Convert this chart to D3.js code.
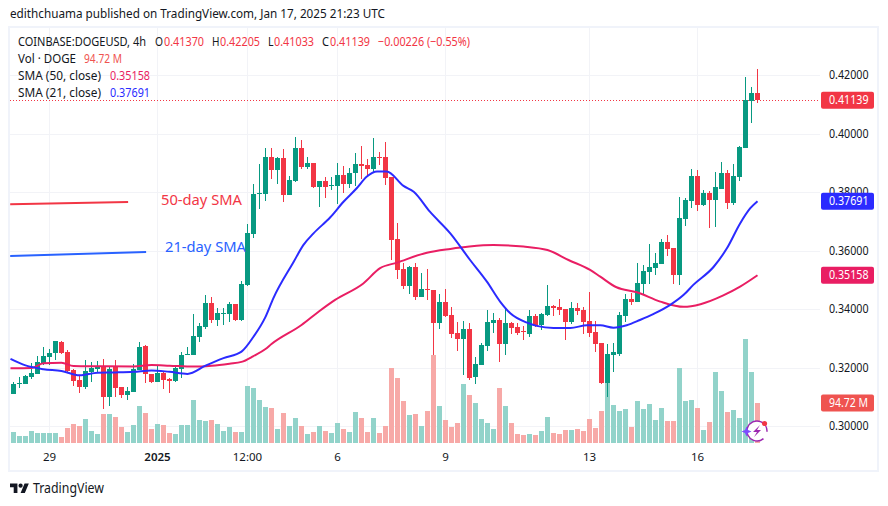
<!DOCTYPE html>
<html><head><meta charset="utf-8">
<script src="https://cdnjs.cloudflare.com/ajax/libs/d3/7.8.5/d3.min.js"></script>
<style>html,body{margin:0;padding:0;background:#fff}svg{display:block}text{font-family:"Noto Sans",sans-serif;}</style>
</head><body><svg id="c" width="888" height="506"></svg>
<script>
const opens=[.3112,.3144,.3144,.3168,.3178,.3215,.3237,.3249,.3289,.3254,.3192,.3158,.3134,.3185,.3196,.3202,.3100,.3202,.3134,.3107,.3117,.3192,.3274,.3178,.3151,.3182,.3161,.3154,.3196,.3243,.3243,.3305,.3339,.3421,.3363,.3386,.3383,.3418,.3363,.3482,.3656,.3793,.3793,.3920,.3875,.3916,.3790,.3838,.3951,.3886,.3899,.3817,.3838,.3822,.3821,.3858,.3827,.3865,.3896,.3892,.3879,.3919,.3920,.3851,.3639,.3537,.3479,.3544,.3441,.3468,.3465,.3353,.3424,.3380,.3318,.3298,.3332,.3168,.3209,.3274,.3353,.3363,.3281,.3353,.3339,.3324,.3315,.3377,.3346,.3380,.3411,.3407,.3400,.3356,.3404,.3397,.3360,.3322,.3284,.3147,.3243,.3247,.3377,.3435,.3425,.3485,.3526,.3540,.3554,.3629,.3608,.3516,.3707,.3769,.3855,.3755,.3796,.3772,.3810,.3865,.3762,.3851,.3951,.4111,.41370];
const highs=[.3151,.3167,.3175,.3217,.3240,.3270,.3263,.3291,.3291,.3261,.3196,.3175,.3226,.3219,.3223,.3230,.3206,.3226,.3135,.3133,.3213,.3288,.3278,.3179,.3207,.3189,.3166,.3206,.3254,.3271,.3384,.3353,.3448,.3441,.3404,.3404,.3424,.3419,.3496,.3691,.3827,.3896,.3951,.3951,.3920,.3947,.3855,.3988,.3978,.3920,.3900,.3839,.3851,.3851,.3899,.3889,.3882,.3933,.3957,.3913,.3985,.3937,.3971,.3852,.3694,.3557,.3547,.3557,.3523,.3537,.3466,.3452,.3469,.3407,.3356,.3359,.3353,.3236,.3284,.3397,.3387,.3370,.3401,.3356,.3353,.3342,.3397,.3383,.3387,.3483,.3414,.3434,.3401,.3424,.3421,.3407,.3459,.3359,.3285,.3281,.3284,.3390,.3452,.3455,.3557,.3550,.3622,.3591,.3639,.3653,.3609,.3783,.3779,.3879,.3875,.3807,.3803,.3868,.3903,.3875,.3896,.3957,.4193,.4159,.42205];
const lows=[.3109,.3132,.3143,.3160,.3177,.3209,.3208,.3226,.3248,.3186,.3139,.3115,.3128,.3152,.3181,.3060,.3070,.3101,.3098,.3091,.3116,.3191,.3147,.3148,.3150,.3127,.3115,.3153,.3165,.3242,.3242,.3288,.3332,.3353,.3342,.3346,.3356,.3359,.3359,.3479,.3643,.3742,.3769,.3845,.3827,.3766,.3789,.3834,.3879,.3879,.3814,.3749,.3780,.3807,.3759,.3797,.3814,.3821,.3845,.3855,.3869,.3892,.3824,.3568,.3503,.3468,.3451,.3431,.3440,.3431,.3243,.3332,.3374,.3301,.3257,.3175,.3158,.3144,.3208,.3257,.3317,.3219,.3243,.3315,.3312,.3295,.3305,.3340,.3329,.3377,.3377,.3380,.3295,.3349,.3380,.3315,.3305,.3254,.3146,.3100,.3185,.3240,.3356,.3414,.3424,.3448,.3485,.3516,.3553,.3581,.3485,.3482,.3684,.3745,.3735,.3752,.3677,.3680,.3810,.3742,.3755,.3837,.3950,.4036,.41033];
const closes=[.3144,.3147,.3172,.3182,.3219,.3240,.3250,.3290,.3249,.3189,.3154,.3134,.3189,.3199,.3201,.3100,.3196,.3131,.3107,.3120,.3196,.3271,.3177,.3151,.3182,.3158,.3154,.3199,.3243,.3247,.3308,.3343,.3421,.3363,.3387,.3388,.3418,.3363,.3486,.3659,.3793,.3796,.3920,.3875,.3916,.3790,.3841,.3951,.3886,.3899,.3817,.3838,.3817,.3825,.3858,.3827,.3865,.3896,.3889,.3879,.3920,.3917,.3848,.3636,.3533,.3479,.3544,.3441,.3468,.3465,.3353,.3424,.3377,.3315,.3298,.3332,.3165,.3212,.3277,.3356,.3363,.3281,.3353,.3336,.3318,.3322,.3377,.3342,.3383,.3411,.3404,.3397,.3356,.3404,.3394,.3356,.3318,.3281,.3147,.3247,.3254,.3380,.3435,.3424,.3489,.3530,.3543,.3557,.3629,.3605,.3516,.3711,.3772,.3855,.3755,.3796,.3772,.3817,.3865,.3762,.3855,.3954,.4115,.4139,.41139];
const volumesM=[25.3,15.8,15.8,27.7,22.9,22.9,22.9,22.9,13.4,34.8,44.2,39.5,56.1,27.7,20.5,67.9,67.9,60.8,37.1,25.3,41.9,86.9,70.3,32.4,44.2,41.9,22.9,20.5,41.9,41.9,101.1,53.7,51.4,53.7,44.2,27.7,37.1,25.3,25.3,134.3,129.6,101.9,85.3,83,33.2,71.1,40.3,59.3,40.3,21.3,26.1,40.3,28.4,23.7,47.4,33.2,26.1,73.5,59.3,26.1,59.3,23.7,40.3,177.8,154,99.5,66.4,68.7,40.3,75.8,208.6,87.7,54.5,37.9,47.4,139.8,113.8,94.8,56.9,47.4,33.2,130.4,87.7,47.4,21.3,19,21.3,19,28.4,61.6,23.7,21.3,30.8,30.8,33.2,28.4,56.9,35.6,75.8,142,90,75.8,80.6,37.9,99.5,80.6,92.4,54.5,83,52.1,52.1,177.8,99.5,101.9,83,30.8,49.8,168.3,123.2,73.5,78.2,59.3,246.5,168.3,94.72];
const sma21Bars=[-0.5,2,5,8,11,14,17,20,23,26,29,32,35,38,40,42,43.3,46.7,48.3,50,52.8,55,57.2,58.9,60.6,62.2,65,66.7,69.4,72.8,76.1,78.9,81.1,82.8,85.6,87.2,90,92.8,95.6,97.8,100,102.2,104.4,106.7,109.4,111.7,113.3,116.7,118.9,121.1,122.8,124];
const sma21Values=[.3230,.3208,.3195,.3189,.3174,.3183,.3184,.3186,.3191,.3186,.3179,.3207,.3233,.3255,.3306,.3374,.3437,.3562,.3619,.3659,.3714,.3767,.3813,.3853,.3870,.3870,.3821,.3801,.3733,.3659,.3568,.3494,.3426,.3386,.3354,.3343,.3336,.3336,.3345,.3345,.3337,.3345,.3363,.3384,.3414,.3449,.3483,.3545,.3608,.3693,.3745,.37691];
const sma50Bars=[-0.5,3,5,8,10,14,20,23,26,30,33,36,38,40,42,43,48,51,53.6,58.3,61.1,63.9,68.9,72.8,76,80,85,89,92.5,96.1,97.8,100.5,103.9,107.8,111.7,114.5,118.3,121.1,124];
const sma50Values=[.3198,.3199,.3215,.3217,.3206,.3205,.3204,.3209,.3207,.3204,.3207,.3214,.3220,.3240,.3264,.3281,.3346,.3394,.3432,.3488,.3540,.3559,.3593,.3606,.3614,.3619,.3614,.3602,.3568,.3534,.3511,.3475,.3458,.3426,.3408,.3417,.3447,.3477,.35158];
const priceTicks=[.42,.40,.38,.36,.34,.32,.30];
const timeTickBars=[6,24,39,54,72,96,114];
const timeTickLabels=["29","2025","12:00","6","9","13","16"];
const noteRedBars=[-0.55,19.1], noteRedPrices=[.37584,.37662];
const noteBlueBars=[-0.55,22.1], noteBluePrices=[.35818,.35954];

const GREEN="#089981",RED="#F23645",INK="#131722",GRID="#F2F3F7";
const svg=d3.select("#c");
const x=d3.scaleLinear().domain([0,124]).range([13.5,757.5]);
const y=d3.scaleLinear().domain([.30,.42]).range([426.3,75]);
const yVol=d3.scaleLinear().domain([0,246.5]).range([443,339]);
const ys=p=>Math.round(y(p));
const idx=d3.range(opens.length);
const fit=(sel,w)=>w?sel.attr("textLength",w).attr("lengthAdjust","spacingAndGlyphs"):sel;

svg.append("defs").append("clipPath").attr("id","pane").append("rect").attr("x",10).attr("y",28).attr("width",810).attr("height",442);
svg.append("rect").attr("x",9).attr("y",27).attr("width",869).attr("height",444).attr("fill","#fff").attr("stroke","#F0F3FA").attr("stroke-width",2);

// grid
const grid=svg.append("g").attr("shape-rendering","crispEdges").attr("stroke",GRID);
grid.selectAll(".h").data(priceTicks).join("line").attr("x1",10).attr("x2",820).attr("y1",d=>ys(d)+.5).attr("y2",d=>ys(d)+.5);
grid.selectAll(".v").data(timeTickBars).join("line").attr("x1",d=>x(d)).attr("x2",d=>x(d)).attr("y1",28).attr("y2",443);

const pane=svg.append("g").attr("clip-path","url(#pane)");
// volume
pane.append("g").selectAll("rect").data(idx).join("rect").attr("shape-rendering","crispEdges")
 .attr("x",i=>x(i)-2.5).attr("width",5)
 .attr("y",i=>Math.round(yVol(volumesM[i]))).attr("height",i=>443-Math.round(yVol(volumesM[i])))
 .attr("fill",i=>closes[i]>=opens[i]?"#92D3CA":"#F7A9A7");
// last price line
pane.append("line").attr("x1",10).attr("x2",820).attr("y1",ys(closes[124])+.5).attr("y2",ys(closes[124])+.5)
 .attr("stroke",RED).attr("stroke-dasharray","1 2").attr("shape-rendering","crispEdges");
// candles
const cg=pane.append("g").attr("shape-rendering","crispEdges");
cg.selectAll(".w").data(idx).join("rect").attr("x",i=>x(i)-.5).attr("width",1)
 .attr("y",i=>ys(highs[i])).attr("height",i=>Math.max(1,ys(lows[i])-ys(highs[i])))
 .attr("fill",i=>closes[i]>=opens[i]?GREEN:RED);
cg.selectAll(".b").data(idx).join("rect").attr("x",i=>x(i)-2.5).attr("width",5)
 .attr("y",i=>ys(Math.max(opens[i],closes[i]))).attr("height",i=>Math.max(1,Math.abs(ys(opens[i])-ys(closes[i]))))
 .attr("fill",i=>closes[i]>=opens[i]?GREEN:RED);
// SMA lines
const line=d3.line().x(d=>x(d[0])).y(d=>y(d[1])).curve(d3.curveMonotoneX);
pane.append("path").attr("d",line(d3.zip(sma50Bars,sma50Values))).attr("fill","none").attr("stroke","#E91E63").attr("stroke-width",2);
pane.append("path").attr("d",line(d3.zip(sma21Bars,sma21Values))).attr("fill","none").attr("stroke","#2B2BFF").attr("stroke-width",2);
// notes
const plain=d3.line().x(d=>x(d[0])).y(d=>y(d[1]));
pane.append("path").attr("d",plain(d3.zip(noteRedBars,noteRedPrices))).attr("stroke",RED).attr("stroke-width",2).attr("fill","none");
pane.append("path").attr("d",plain(d3.zip(noteBlueBars,noteBluePrices))).attr("stroke","#2962FF").attr("stroke-width",2).attr("fill","none");
fit(svg.append("text").attr("x",161).attr("y",205).attr("font-size",14.5).attr("fill",RED).text("50-day SMA"),81);
fit(svg.append("text").attr("x",165).attr("y",252).attr("font-size",14.5).attr("fill","#2962FF").text("21-day SMA"),81);

// axes labels
svg.append("g").selectAll("text").data(priceTicks).join("text").attr("x",829).attr("y",d=>y(d)+4).attr("font-size",12).attr("fill",INK)
 .attr("textLength",39.5).attr("lengthAdjust","spacingAndGlyphs").text(d=>d3.format(".5f")(d));
svg.append("g").selectAll("text").data(timeTickBars).join("text").attr("x",d=>x(d)).attr("y",460.5).attr("text-anchor","middle").attr("font-size",11.5).attr("fill",INK)
 .attr("font-weight",(d,i)=>i==1?600:400).text((d,i)=>timeTickLabels[i]);

// value tags
const tagG=svg.append("g");
function tag(cy,label,col,w){
 tagG.append("rect").attr("x",821).attr("y",cy-8.5).attr("width",53).attr("height",17).attr("rx",2).attr("fill",col);
 fit(tagG.append("text").attr("x",829).attr("y",cy+4).attr("font-size",12).attr("fill","#fff").text(label),w);
}
tag(y(closes[124]),closes[124].toFixed(5),RED,39.5);
tag(y(sma21Values[sma21Values.length-1]),sma21Values[sma21Values.length-1].toFixed(5),"#2B2BFF",39.5);
tag(y(sma50Values[sma50Values.length-1]),sma50Values[sma50Values.length-1].toFixed(5),"#E91E63",39.5);
tag(yVol(volumesM[124]),"94.72 M","#EF5350",39);

// header
const T=(x0,yy,s,c,w)=>fit(svg.append("text").attr("x",x0).attr("y",yy).attr("font-size",12).attr("fill",c||INK).text(s),w);
T(10,18,"edithchuama published on TradingView.com, Jan 17, 2025 21:23 UTC",INK,375);
T(18,46,"COINBASE:DOGEUSD, 4h",INK,128);
T(155,46,"O",INK,8);T(164,46,"0.41370",RED,40);T(212,46,"H",INK,7.5);T(220,46,"0.42205",RED,40);T(268,46,"L",INK,5.5);T(274,46,"0.41033",RED,40);T(322,46,"C",INK,7);T(330,46,"0.41139",RED,40);T(378,46,"−0.00226 (−0.55%)",RED,92);
T(18,63,"Vol · DOGE",INK,58);T(84,63,"94.72 M","#EF5350",38);
T(18,80,"SMA (50, close)",INK,83);T(110,80,sma50Values[sma50Values.length-1].toFixed(5),"#E91E63",40);
T(18,97,"SMA (21, close)",INK,83);T(110,97,sma21Values[sma21Values.length-1].toFixed(5),"#2B2BFF",40);

// badge
const b=svg.append("g").attr("transform","translate(757,431)");
b.append("circle").attr("r",10).attr("fill","#fff").attr("stroke","#9C27B0").attr("stroke-width",1.5).attr("stroke-dasharray","44 8").attr("transform","rotate(110)");
b.append("path").attr("d","M3 -6 L-4 1 L0 1 L-3 6 L4 -1 L0 -1 Z").attr("fill","#9C27B0");
b.append("circle").attr("cx",7.5).attr("cy",-7.5).attr("r",2.6).attr("fill",RED);
b.append("path").attr("d","M-10.5 -4.5 L-9 -1 L-5.5 .5 L-9 2 L-10.5 5.5 L-12 2 L-15.5 .5 L-12 -1 Z").attr("fill","#7C4DFF");

// logo
const l=svg.append("g").attr("transform","translate(10,481.4) scale(.53)").attr("fill","#131722");
l.append("path").attr("d","M14 22H7V11H0V4h14v18zM28 22h-8l7.5-18h8L28 22z");
l.append("circle").attr("cx",20).attr("cy",8).attr("r",4);
fit(svg.append("text").attr("x",33).attr("y",493).attr("font-size",13.5).attr("fill","#131722").text("TradingView"),71);
</script></body></html>
